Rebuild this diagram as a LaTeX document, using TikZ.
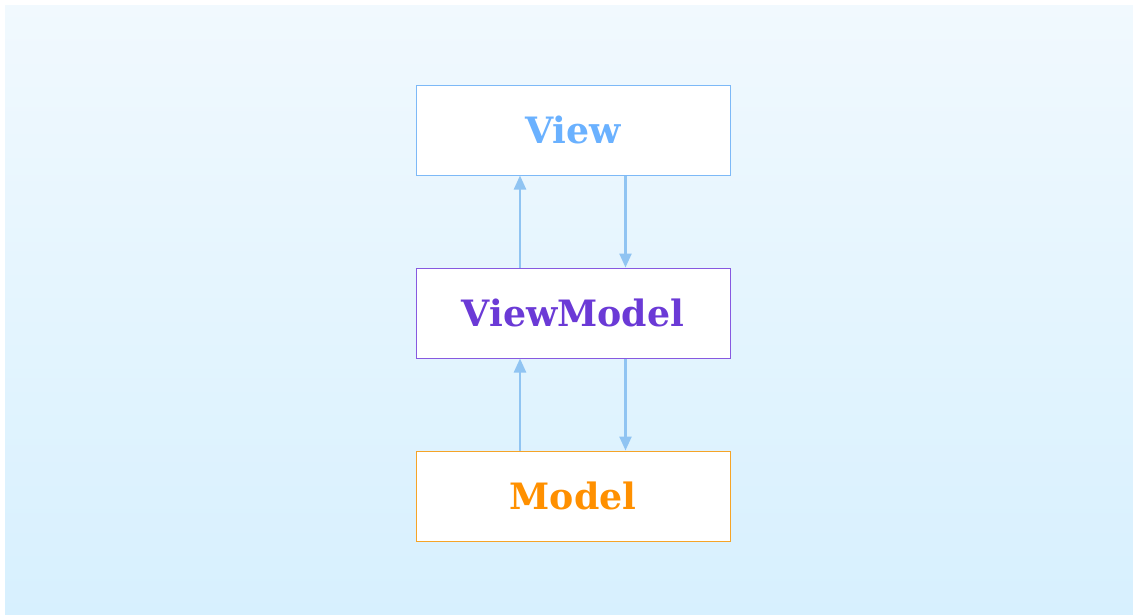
\documentclass[tikz,border=0pt]{standalone}
\usepackage{fontspec}
\setmainfont{DejaVu Serif}
\usetikzlibrary{arrows.meta}
\definecolor{bgtop}{HTML}{F1F9FE}
\definecolor{bgbot}{HTML}{D7F0FE}
\definecolor{viewc}{HTML}{6AB1FF}
\definecolor{viewb}{HTML}{7DB9F7}
\definecolor{vmc}{HTML}{6B3AD6}
\definecolor{vmb}{HTML}{8759E0}
\definecolor{modc}{HTML}{FF9000}
\definecolor{modb}{HTML}{F5A428}
\definecolor{arr}{HTML}{90C4F2}
\tikzset{
  layer/.style={draw, fill=white, line width=1pt, minimum width=314pt, minimum height=90pt, inner sep=0pt, font=\fontsize{36.3}{42}\selectfont\bfseries},
  flow/.style={draw=arr, line width=2.4pt, -{Triangle[length=14pt,width=12pt]}}
}
\begin{document}
\begin{tikzpicture}[x=1pt,y=-1pt]
\useasboundingbox (0,0) rectangle (1133,614);
\fill[white] (0,0) rectangle (1133,614);
\shade[top color=bgtop, bottom color=bgbot] (5,5) rectangle (1133,614);
\node[layer, draw=viewb, text=viewc] (view) at (573,130) {View};
\node[layer, draw=vmb, text=vmc] (vm) at (573,313) {ViewModel};
\node[layer, draw=modb, text=modc] (model) at (573,496) {Model};
\draw[flow] ([xshift=104.5pt]vm.north west) -- ([xshift=104.5pt]view.south west);
\draw[flow] ([xshift=-105pt]view.south east) -- ([xshift=-105pt]vm.north east);
\draw[flow] ([xshift=104.5pt]model.north west) -- ([xshift=104.5pt]vm.south west);
\draw[flow] ([xshift=-105pt]vm.south east) -- ([xshift=-105pt]model.north east);
\end{tikzpicture}
\end{document}
